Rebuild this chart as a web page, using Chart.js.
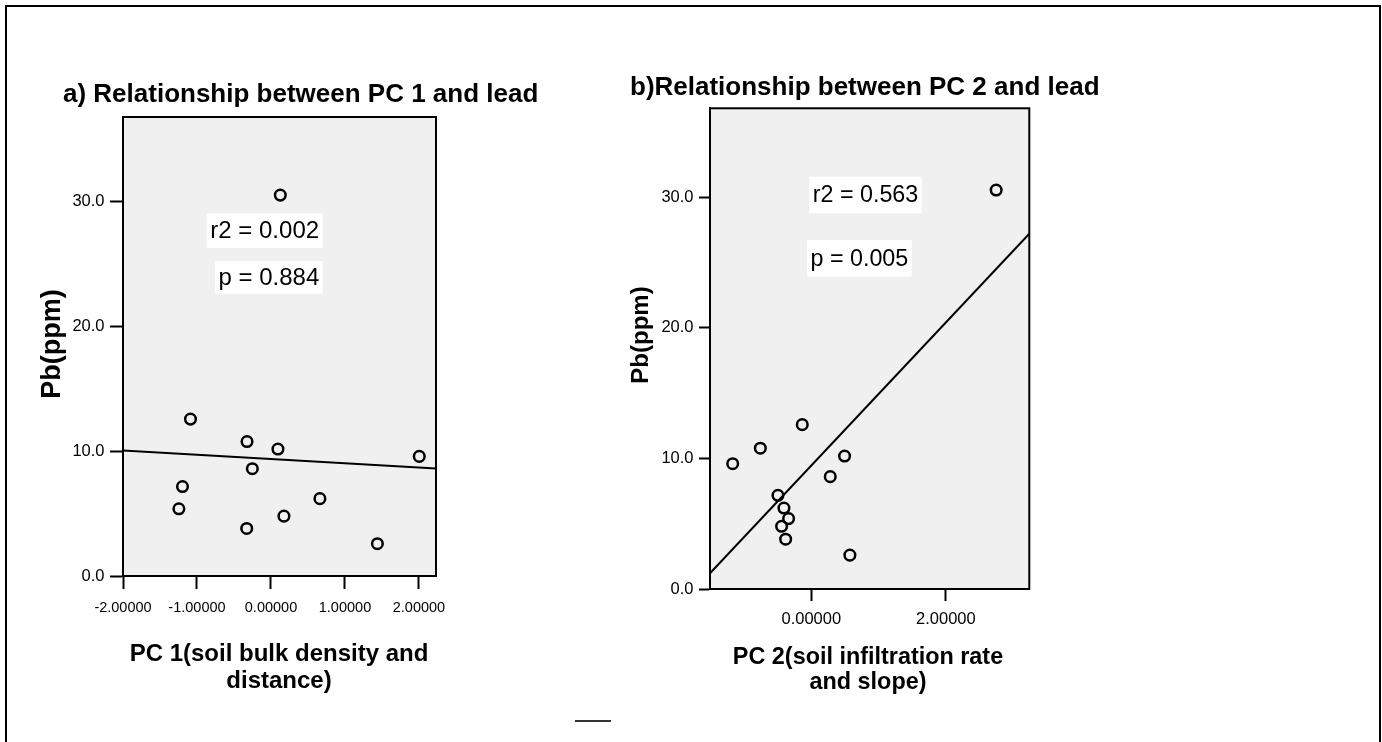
<!DOCTYPE html>
<html><head><meta charset="utf-8">
<script src="https://cdn.jsdelivr.net/npm/chart.js@4.4.1/dist/chart.umd.min.js"></script>
<style>
html,body{margin:0;padding:0;background:#fff;overflow:hidden;width:1382px;height:742px;}
#frame{position:absolute;left:5px;top:5px;width:1376px;height:800px;box-sizing:border-box;border:2px solid #000;border-bottom:none;}
#mark{position:absolute;left:575px;top:720px;width:36px;height:2px;background:#333;}
#wa{position:absolute;left:0;top:0;width:600px;height:742px;}
#wb{position:absolute;left:600px;top:0;width:782px;height:742px;}
</style></head><body>
<div id="frame"></div><div id="mark"></div>
<div id="wa"><canvas id="ca"></canvas></div>
<div id="wb"><canvas id="cb"></canvas></div>
<script>
// ---- data ----
const pbPpm = [30.54, 12.58, 10.78, 10.18, 9.59, 8.60, 7.17, 6.20, 5.39, 4.80, 3.81, 2.59];
const pc1   = [0.126, -1.088, -0.324, 0.094, 2.004, -0.252, -1.196, 0.661, -1.245, 0.175, -0.328, 1.438];
const pc2   = [2.748, -0.134, -0.757, 0.495, -1.168, 0.282, -0.495, -0.406, -0.337, -0.441, -0.381, 0.574];
const fitAx = [-2.0, 2.23];
const fitAy = [10.07, 8.61];
const fitBx = [-1.505, 3.24];
const fitBy = [1.2, 27.2];
const yTickVals  = [0, 10, 20, 30];
const xTickValsA = [-2, -1, 0, 1, 2];
const xTickValsB = [0, 2];
const titleA = "a) Relationship between PC 1 and lead";
const titleB = "b)Relationship between PC 2 and lead";
const xTitleA = ["PC 1(soil bulk density and", "distance)"];
const xTitleB = ["PC 2(soil infiltration rate", "and slope)"];
const yTitle = "Pb(ppm)";
const statsA = ["r2 = 0.002", "p = 0.884"];
const statsB = ["r2 = 0.563", "p = 0.005"];

const FAM = "'Liberation Sans', Arial, sans-serif";

const deco = {
  id: 'deco',
  beforeDraw(chart, args, o) {
    const {ctx, chartArea: a} = chart;
    ctx.save();
    ctx.fillStyle = '#f0f0f0';
    ctx.fillRect(a.left, a.top, a.right - a.left, a.bottom - a.top);
    ctx.restore();
  },
  afterDraw(chart, args, o) {
    const {ctx, chartArea: a} = chart;
    ctx.save();
    ctx.strokeStyle = '#000'; ctx.lineWidth = 2;
    ctx.strokeRect(a.left, a.top, a.right - a.left, a.bottom - a.top);
    // stats boxes
    o.boxes.forEach(b => {
      ctx.fillStyle = '#fff';
      ctx.fillRect(b.r[0], b.r[1], b.r[2] - b.r[0], b.r[3] - b.r[1]);
      ctx.fillStyle = '#000';
      ctx.font = `${b.size}px ${FAM}`;
      ctx.textAlign = 'center'; ctx.textBaseline = 'middle';
      ctx.fillText(b.text, (b.r[0] + b.r[2]) / 2, (b.r[1] + b.r[3]) / 2 + 1);
    });
    // titles
    ctx.fillStyle = '#000';
    ctx.font = `bold ${o.title.size}px ${FAM}`;
    ctx.textAlign = 'left'; ctx.textBaseline = 'alphabetic';
    ctx.fillText(o.title.text, o.title.x, o.title.y);
    ctx.font = `bold ${o.xt.size}px ${FAM}`;
    ctx.textAlign = 'center'; ctx.textBaseline = 'middle';
    o.xt.lines.forEach((t, i) => ctx.fillText(t, o.xt.x, o.xt.y[i]));
    ctx.translate(o.yt.x, o.yt.y); ctx.rotate(-Math.PI / 2);
    ctx.font = `bold ${o.yt.size}px ${FAM}`;
    ctx.fillText(o.yt.text, 0, 0);
    ctx.restore();
  }
};

function makeChart(id, xs, fitX, fitY, xr, xTicks, xFont, xPad, xTickLen, yFont, yTickLen, pad, opts) {
  return new Chart(document.getElementById(id), {
    type: 'scatter',
    data: {
      datasets: [
        { type: 'scatter', data: xs.map((x, i) => ({x, y: pbPpm[i]})),
          pointRadius: 5.3, pointHoverRadius: 5.3, pointBorderWidth: 2.5,
          borderColor: '#000', backgroundColor: 'rgba(0,0,0,0)' },
        { type: 'line', data: fitX.map((x, i) => ({x, y: fitY[i]})),
          borderColor: '#000', borderWidth: 2, pointRadius: 0, fill: false, tension: 0 }
      ]
    },
    options: {
      responsive: true, maintainAspectRatio: false, animation: false,
      events: [],
      layout: { padding: pad },
      plugins: { legend: {display: false}, tooltip: {enabled: false}, title: {display: false}, deco: opts },
      scales: {
        x: {
          type: 'linear', min: xr[0], max: xr[1],
          afterBuildTicks: s => { s.ticks = xTicks.map(v => ({value: v})); },
          afterFit: s => { s.height = 60; },
          ticks: { callback: v => Number(v).toFixed(5), font: {family: FAM, size: xFont}, color: '#000',
                   padding: xPad, autoSkip: false, maxRotation: 0 },
          grid: { display: true, drawOnChartArea: false, drawTicks: true, tickLength: xTickLen, tickWidth: 2, tickColor: '#000' },
          border: { display: true, color: '#000', width: 2 }
        },
        y: {
          type: 'linear', min: 0, max: 36.8,
          afterBuildTicks: s => { s.ticks = yTickVals.map(v => ({value: v})); },
          afterFit: s => { s.width = 60; },
          ticks: { callback: v => Number(v).toFixed(1), font: {family: FAM, size: yFont}, color: '#000', padding: 5.5 },
          grid: { display: true, drawOnChartArea: false, drawTicks: true, tickLength: yTickLen, tickWidth: 2, tickColor: '#000' },
          border: { display: true, color: '#000', width: 2 }
        }
      }
    },
    plugins: [deco]
  });
}

makeChart('ca', pc1, fitAx, fitAy, [-2.0, 2.23], xTickValsA, 14.5, 10, 13, 16.5, 13,
  {left: 63, right: 164, top: 117, bottom: 106},
  {
    title: {text: titleA, x: 63, y: 102, size: 26},
    xt: {lines: xTitleA, x: 279, y: [654, 681], size: 24},
    yt: {text: yTitle, x: 53, y: 344, size: 27},
    boxes: [
      {text: statsA[0], r: [206.7, 213.4, 322.7, 247.9], size: 24},
      {text: statsA[1], r: [215, 261, 322.7, 293.7], size: 24}
    ]
  });

makeChart('cb', pc2, fitBx, fitBy, [-1.505, 3.24], xTickValsB, 16.5, 9, 12, 16.5, 11,
  {left: 50, right: 352.7, top: 108.3, bottom: 93},
  {
    title: {text: titleB, x: 30, y: 95, size: 26},
    xt: {lines: xTitleB, x: 268, y: [658, 683], size: 23.4},
    yt: {text: yTitle, x: 41, y: 335, size: 24},
    boxes: [
      {text: statsB[0], r: [209.3, 176.8, 321.7, 213.3], size: 23.3},
      {text: statsB[1], r: [207, 240, 311.7, 276.5], size: 23.3}
    ]
  });
</script>
</body></html>
